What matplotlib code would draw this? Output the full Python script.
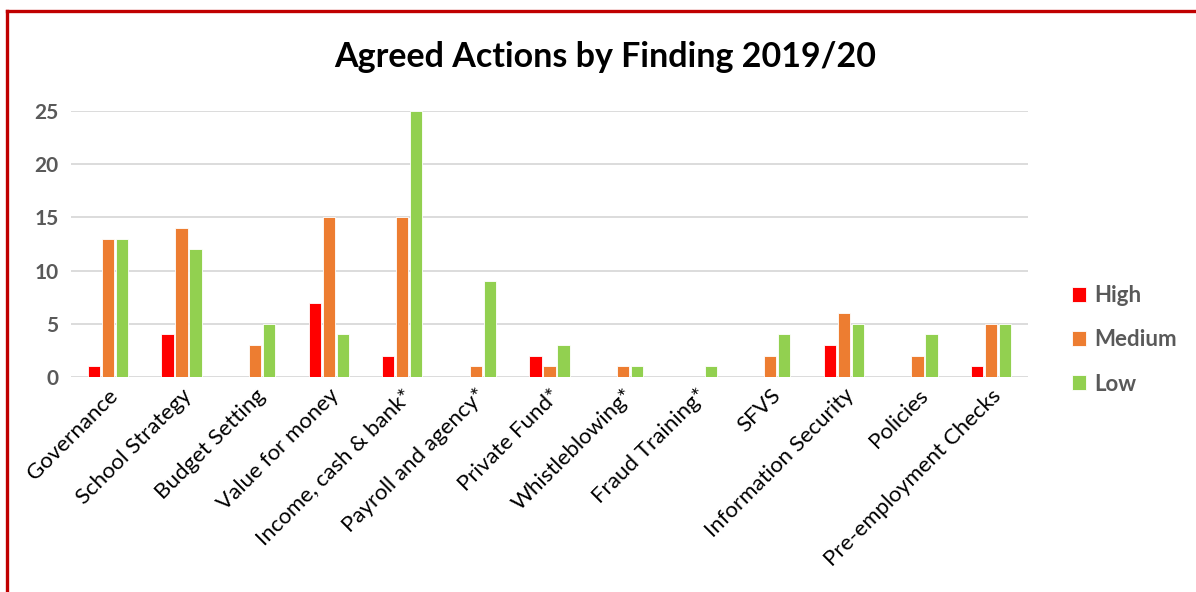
import numpy as np
import matplotlib
matplotlib.use("Agg")
import matplotlib.pyplot as plt
from matplotlib.lines import Line2D

plt.rcParams['font.family'] = ['Lato', 'DejaVu Sans']

# Datos del gráfico
categorias = ["Governance", "School Strategy", "Budget Setting", "Value for money",
              "Income, cash & bank*", "Payroll and agency*", "Private Fund*",
              "Whistleblowing*", "Fraud Training*", "SFVS", "Information Security",
              "Policies", "Pre-employment Checks"]
high = [1, 4, 0, 7, 2, 0, 2, 0, 0, 0, 3, 0, 1]
medium = [13, 14, 3, 15, 15, 1, 1, 1, 0, 2, 6, 2, 5]
low = [13, 12, 5, 4, 25, 9, 3, 1, 1, 4, 5, 4, 5]
series = [("High", high, "#FF0000"), ("Medium", medium, "#ED7D31"), ("Low", low, "#92D050")]

fig = plt.figure(figsize=(11.96, 5.92), dpi=100)
ax = fig.add_axes([0.0594, 0.3632, 0.8001, 0.4493])

x = np.arange(len(categorias))
ancho = 0.165
paso = 0.19
for i, (nombre, valores, color) in enumerate(series):
    ax.bar(x + (i - 1) * paso, valores, width=ancho, color=color, label=nombre,
           edgecolor="white", linewidth=0.6, zorder=3)

ax.set_xlim(-0.5, len(categorias) - 0.5)
ax.set_ylim(0, 25)
ax.set_yticks([0, 5, 10, 15, 20, 25])
ax.yaxis.grid(True, color="#D9D9D9", linewidth=1.3, zorder=0)
for s in ax.spines.values():
    s.set_visible(False)
ax.tick_params(axis="both", length=0)
ax.tick_params(axis="y", labelsize=15, labelcolor="#595959", pad=9)
for t in ax.get_yticklabels():
    t.set_fontweight("bold")
ax.set_xticks(x)
ax.set_xticklabels(categorias, rotation=45, ha="right", rotation_mode="anchor",
                   fontsize=16, color="black")
ax.tick_params(axis="x", pad=6)

fig.text(0.506, 0.904, "Agreed Actions by Finding 2019/20", ha="center", va="center",
         fontsize=24.5, fontweight="bold", color="black")

leg = ax.legend(loc="center left", bbox_to_anchor=(1.025, 0.14), frameon=False,
                fontsize=16, handlelength=0.65, handleheight=0.65, labelspacing=1.05,
                handletextpad=0.35)
for t in leg.get_texts():
    t.set_color("#595959")
    t.set_fontweight("bold")

# Borde rojo (arriba e izquierda)
fig.add_artist(Line2D([0.0059, 1.0], [0.9814, 0.9814], color="#C00000", linewidth=2.4,
                      transform=fig.transFigure))
fig.add_artist(Line2D([0.0059, 0.0059], [0.0, 0.9814], color="#C00000", linewidth=2.4,
                      transform=fig.transFigure))

fig.savefig("out.png", dpi=100)
